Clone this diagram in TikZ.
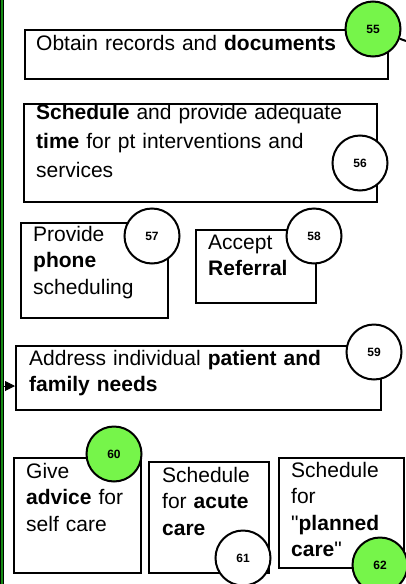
\documentclass[tikz,border=0pt]{standalone}
\usepackage{fontspec}
\setmainfont{Liberation Sans}[Ligatures=TeXOff]
\usetikzlibrary{arrows.meta}
\definecolor{markgreen}{RGB}{118,245,74}
\definecolor{bargreen}{RGB}{20,140,20}

\begin{document}
\begin{tikzpicture}[x=1pt,y=-1pt,every node/.style={black},
	stepbox/.style={draw, rectangle, line width=2.2pt, anchor=north west, inner sep=0pt},
	steptext/.style={anchor=base west, inner sep=0pt, text width=330pt, align=left, font=\fontsize{21}{26.5}\selectfont},
	num/.style={draw, circle, line width=2pt, fill=white, minimum size=55pt, inner sep=0pt, font=\fontsize{12}{12}\selectfont\bfseries}]
	\useasboundingbox (0,0) rectangle (406,584);

	\draw[line width=1pt, fill=bargreen] (0.5,-2) rectangle (3.5,586);

	\node[stepbox, minimum width=363, minimum height=49] (b55) at (24,29) {};
	\node[stepbox, minimum width=353, minimum height=98] (b56) at (23,103) {};
	\node[stepbox, minimum width=147, minimum height=95] (b57) at (20,222) {};
	\node[stepbox, minimum width=120, minimum height=73] (b58) at (195,229) {};
	\node[stepbox, minimum width=365, minimum height=64] (b59) at (15,345) {};
	\node[stepbox, minimum width=127, minimum height=115] (b60) at (13,457) {};
	\node[stepbox, minimum width=120, minimum height=111] (b61) at (148,461) {};
	\node[stepbox, minimum width=125, minimum height=110] (b62) at (278,457) {};

	\node[steptext] (t55) at (36,50) {Obtain records and \textbf{documents}};
	\node[steptext, font=\fontsize{21}{29}\selectfont] (t56) at (36,119) {\textbf{Schedule} and provide adequate\\ \textbf{time} for pt interventions and\\ services};
	\node[steptext] (t57) at (33,241) {Provide\\ \textbf{phone}\\ scheduling};
	\node[steptext] (t58) at (208,249) {Accept\\ \textbf{Referral}};
	\node[steptext] (t59) at (29,365) {Address individual \textbf{patient and}\\ \textbf{family needs}};
	\node[steptext] (t60) at (26,478) {Give\\ \textbf{advice} for\\ self care};
	\node[steptext] (t61) at (162,482) {Schedule\\ for \textbf{acute}\\ \textbf{care}};
	\node[steptext] (t62) at (291,477) {Schedule\\ for\\ "\textbf{planned}\\ \textbf{care}"};

	\node[num, fill=markgreen] (c55) at (373,29) {55};
	\node[num] (c56) at (360,163) {56};
	\node[num] (c57) at (152,236) {57};
	\node[num] (c58) at (314,236) {58};
	\node[num] (c59) at (374,352) {59};
	\node[num, fill=markgreen] (c60) at (114,454) {60};
	\node[num] (c61) at (243,558) {61};
	\node[num, fill=markgreen] (c62) at (380,565) {62};

	\coordinate (o55) at (406,41);
	\coordinate (a59) at (4,386);
	\draw[line width=2pt] (c55) -- (o55);
	\draw[line width=1pt, -{Triangle[length=10pt,width=10pt]}] (a59) -- (a59 -| b59.west);
\end{tikzpicture}
\end{document}
